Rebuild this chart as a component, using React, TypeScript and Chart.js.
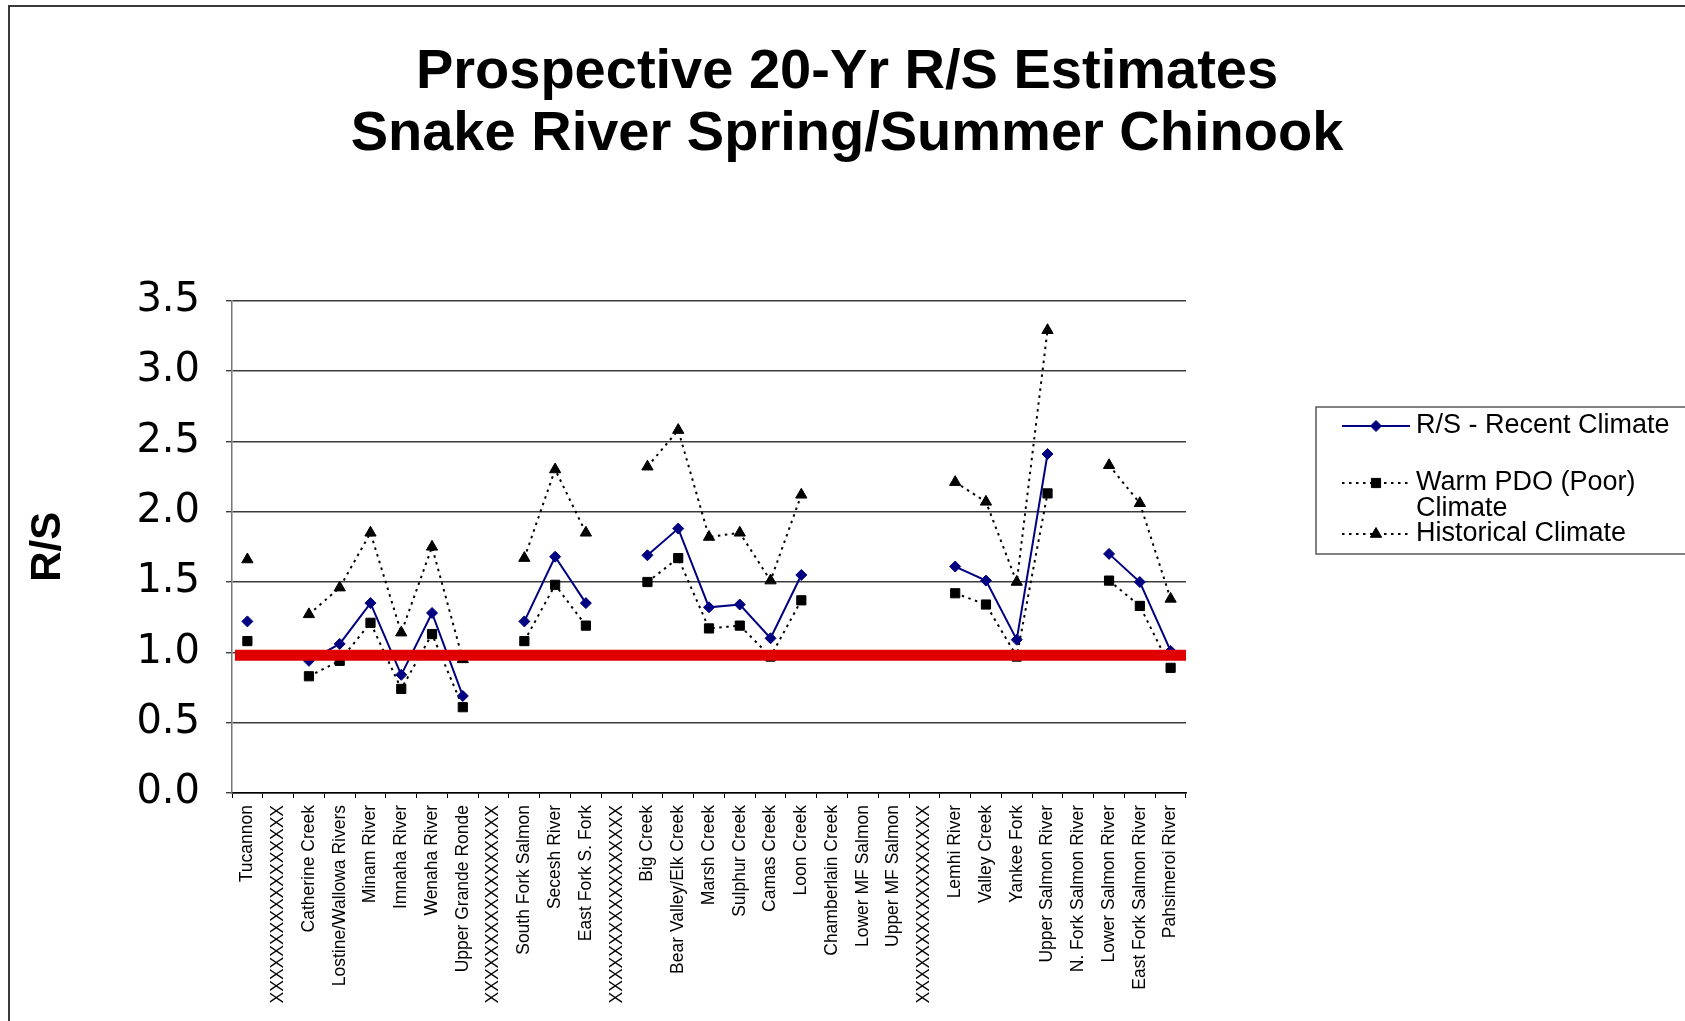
import React, { useEffect, useRef } from 'react';
import { Chart, registerables } from 'chart.js';

Chart.register(...registerables);

const titleLines = ['Prospective 20-Yr R/S Estimates', 'Snake River Spring/Summer Chinook'];
const yAxisTitle = 'R/S';

const categories = [
  'Tucannon',
  'XXXXXXXXXXXXXXXXX',
  'Catherine Creek',
  'Lostine/Wallowa Rivers',
  'Minam River',
  'Imnaha River',
  'Wenaha River',
  'Upper Grande Ronde',
  'XXXXXXXXXXXXXXXXX',
  'South Fork Salmon',
  'Secesh River',
  'East Fork S. Fork',
  'XXXXXXXXXXXXXXXXX',
  'Big Creek',
  'Bear Valley/Elk Creek',
  'Marsh Creek',
  'Sulphur Creek',
  'Camas Creek',
  'Loon Creek',
  'Chamberlain Creek',
  'Lower MF Salmon',
  'Upper MF Salmon',
  'XXXXXXXXXXXXXXXXX',
  'Lemhi River',
  'Valley Creek',
  'Yankee Fork',
  'Upper Salmon River',
  'N. Fork Salmon River',
  'Lower Salmon River',
  'East Fork Salmon River',
  'Pahsimeroi River',
];

const recentClimate = [
  1.22, null, 0.94, 1.06, 1.35, 0.84, 1.28, 0.69, null, 1.22, 1.68, 1.35, null,
  1.69, 1.88, 1.32, 1.34, 1.10, 1.55, null, null, null, null,
  1.61, 1.51, 1.09, 2.41, null, 1.70, 1.50, 1.01,
];

const warmPdoClimate = [
  1.08, null, 0.83, 0.94, 1.21, 0.74, 1.13, 0.61, null, 1.08, 1.48, 1.19, null,
  1.50, 1.67, 1.17, 1.19, 0.97, 1.37, null, null, null, null,
  1.42, 1.34, 0.97, 2.13, null, 1.51, 1.33, 0.89,
];

const historicalClimate = [
  1.66, null, 1.27, 1.46, 1.85, 1.14, 1.75, 0.95, null, 1.67, 2.30, 1.85, null,
  2.32, 2.58, 1.82, 1.85, 1.51, 2.12, null, null, null, null,
  2.21, 2.07, 1.50, 3.29, null, 2.33, 2.06, 1.38,
];

const seriesLabels = ['R/S - Recent Climate', 'Warm PDO (Poor) Climate', 'Historical Climate'];
const yTickValues = [0, 0.5, 1.0, 1.5, 2.0, 2.5, 3.0, 3.5];
const replacementLine = 0.98;

const FONT = "'Liberation Sans', Arial, sans-serif";

function drawMarker(ctx: CanvasRenderingContext2D, style: string, x: number, y: number, r: number) {
  ctx.beginPath();
  if (style === 'rectRot') {
    ctx.moveTo(x - r, y);
    ctx.lineTo(x, y - r);
    ctx.lineTo(x + r, y);
    ctx.lineTo(x, y + r);
  } else if (style === 'rect') {
    const s = r * Math.SQRT1_2;
    ctx.rect(x - s, y - s, 2 * s, 2 * s);
  } else {
    const w = r * Math.sin((2 * Math.PI) / 3);
    ctx.moveTo(x, y - r);
    ctx.lineTo(x + w, y + r / 2);
    ctx.lineTo(x - w, y + r / 2);
  }
  ctx.closePath();
  ctx.fill();
  ctx.stroke();
}

const refLinePlugin = {
  id: 'refLine',
  afterDatasetsDraw(chart: any) {
    const { ctx, chartArea, scales } = chart;
    const y = scales.y.getPixelForValue(replacementLine);
    ctx.save();
    ctx.strokeStyle = '#e00000';
    ctx.lineWidth = 11;
    ctx.setLineDash([]);
    ctx.beginPath();
    ctx.moveTo(chartArea.left + 3, y);
    ctx.lineTo(chartArea.right, y);
    ctx.stroke();
    ctx.restore();
  },
};

const boxLegendPlugin = {
  id: 'boxLegend',
  afterDraw(chart: any) {
    const ctx: CanvasRenderingContext2D = chart.ctx;
    ctx.save();
    ctx.strokeStyle = '#5a5a5a';
    ctx.lineWidth = 1.5;
    ctx.setLineDash([]);
    ctx.strokeRect(1316, 407, 420, 147);

    const itemY = [426, 483, 534];
    const lineStep = 26;
    ctx.font = `27px ${FONT}`;
    ctx.textBaseline = 'middle';
    ctx.textAlign = 'left';
    chart.data.datasets.forEach((ds: any, i: number) => {
      const y = itemY[i];
      ctx.strokeStyle = ds.borderColor;
      ctx.lineWidth = ds.borderWidth;
      ctx.setLineDash(ds.borderDash || []);
      ctx.beginPath();
      ctx.moveTo(1342, y);
      ctx.lineTo(1410, y);
      ctx.stroke();
      ctx.setLineDash([]);
      ctx.fillStyle = ds.pointBackgroundColor;
      ctx.strokeStyle = ds.pointBorderColor;
      ctx.lineWidth = ds.pointBorderWidth;
      drawMarker(ctx, ds.pointStyle, 1376, y, ds.pointRadius);

      const words = String(ds.label).split(' ');
      const lines: string[] = [];
      let cur = '';
      words.forEach((w) => {
        const test = cur ? cur + ' ' + w : w;
        if (ctx.measureText(test).width > 262 && cur) {
          lines.push(cur);
          cur = w;
        } else {
          cur = test;
        }
      });
      if (cur) lines.push(cur);
      ctx.fillStyle = '#000';
      lines.forEach((ln, k) => ctx.fillText(ln, 1416, y + k * lineStep));
    });
    ctx.restore();
  },
};

export default function App() {
  const canvasRef = useRef<HTMLCanvasElement>(null);

  useEffect(() => {
    if (!canvasRef.current) return;
    const chart = new Chart(canvasRef.current, {
      type: 'line',
      data: {
        labels: categories,
        datasets: [
          {
            label: seriesLabels[0],
            data: recentClimate,
            borderColor: '#000080',
            backgroundColor: '#000080',
            pointBackgroundColor: '#000080',
            pointBorderColor: '#000080',
            borderWidth: 2,
            pointStyle: 'rectRot',
            pointRadius: 5.5,
            pointBorderWidth: 1,
            tension: 0,
            spanGaps: false,
          },
          {
            label: seriesLabels[1],
            data: warmPdoClimate,
            borderColor: '#000000',
            backgroundColor: '#000000',
            pointBackgroundColor: '#000000',
            pointBorderColor: '#000000',
            borderWidth: 2,
            borderDash: [2.5, 4.5],
            pointStyle: 'rect',
            pointRadius: 6.5,
            pointBorderWidth: 1,
            tension: 0,
            spanGaps: false,
          },
          {
            label: seriesLabels[2],
            data: historicalClimate,
            borderColor: '#000000',
            backgroundColor: '#000000',
            pointBackgroundColor: '#000000',
            pointBorderColor: '#000000',
            borderWidth: 2,
            borderDash: [2.5, 4.5],
            pointStyle: 'triangle',
            pointRadius: 6.5,
            pointBorderWidth: 1,
            tension: 0,
            spanGaps: false,
          },
        ] as any,
      },
      options: {
        responsive: false,
        animation: false,
        devicePixelRatio: 1,
        layout: { padding: { left: 9, right: 0, top: 0, bottom: 0 } },
        plugins: {
          legend: { display: false },
          tooltip: { enabled: false },
          title: {
            display: true,
            text: titleLines,
            color: '#000',
            font: { family: FONT, weight: 'bold', size: 56, lineHeight: 1.1 },
            padding: { top: 42, bottom: 135.5 },
          },
        },
        scales: {
          x: {
            type: 'category',
            offset: true,
            grid: {
              offset: true,
              drawOnChartArea: false,
              drawTicks: true,
              tickLength: 5,
              color: '#000',
              lineWidth: 1,
            },
            border: { color: '#000', width: 1.5 },
            ticks: {
              autoSkip: false,
              minRotation: 90,
              maxRotation: 90,
              padding: 7,
              color: '#000',
              font: { family: FONT, size: 17.5 },
            },
            afterFit: (s: any) => {
              s.height = 228;
            },
          },
          y: {
            type: 'linear',
            min: 0,
            max: 3.5,
            afterBuildTicks: (s: any) => {
              s.ticks = yTickValues.map((v) => ({ value: v }));
            },
            ticks: {
              padding: 26,
              color: '#000',
              font: { family: "'DejaVu Sans', sans-serif", size: 40 },
              callback: (v: any) => Number(v).toFixed(1),
            },
            grid: { color: '#3c3c3c', lineWidth: 1.4, tickLength: 6, drawTicks: true },
            border: { color: '#777', width: 1.5 },
            title: {
              display: true,
              text: yAxisTitle,
              color: '#000',
              font: { family: FONT, weight: 'bold', size: 42 },
              padding: { top: 14, bottom: 0 },
            },
            afterFit: (s: any) => {
              s.width = 223;
            },
          },
          yRight: {
            type: 'linear',
            position: 'right',
            display: true,
            ticks: { display: false },
            grid: { display: false, drawTicks: false },
            border: { display: false },
            afterFit: (s: any) => {
              s.width = 499;
            },
          },
        },
      } as any,
      plugins: [refLinePlugin, boxLegendPlugin],
    });
    return () => chart.destroy();
  }, []);

  return (
    <div
      style={{
        position: 'fixed',
        left: 0,
        top: 0,
        width: 1685,
        height: 1021,
        overflow: 'hidden',
        background: '#fff',
      }}
    >
      <div
        style={{
          position: 'absolute',
          left: 8,
          top: 5,
          width: 1800,
          height: 1200,
          borderTop: '2px solid #3a3a3a',
          borderLeft: '2px solid #3a3a3a',
        }}
      />
      <canvas
        ref={canvasRef}
        width={1685}
        height={1021}
        style={{ position: 'absolute', left: 0, top: 0, width: 1685, height: 1021 }}
      />
    </div>
  );
}
